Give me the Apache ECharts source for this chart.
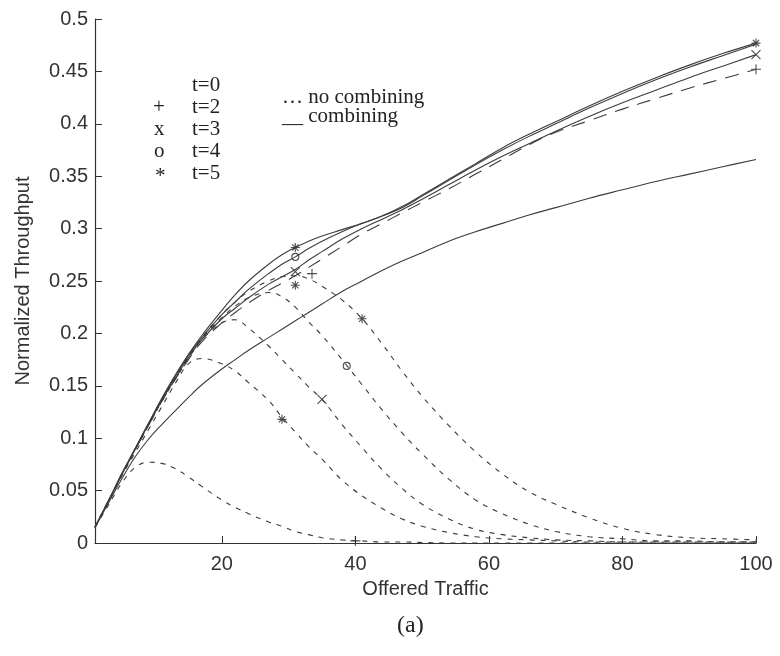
<!DOCTYPE html>
<html>
<head>
<meta charset="utf-8">
<script src="https://cdn.jsdelivr.net/npm/echarts@6/dist/echarts.min.js"></script>
<style>
  html, body { margin: 0; padding: 0; background: #fff; }
  #chart { width: 780px; height: 656px; }
</style>
</head>
<body>
<div id="chart"></div>
<script>
// offered traffic sample points (shared by all curves)
const xs = [1, 3, 5, 7, 9, 11, 13, 15, 17, 20, 22, 24, 27, 29, 31, 33, 35, 38, 41, 44, 47, 50, 54, 58, 62, 66, 70, 75, 80, 85, 90, 95, 100]

// combining (solid)
const combT0 = [0.015, 0.038, 0.061, 0.082, 0.099, 0.113, 0.126, 0.139, 0.151, 0.166, 0.175, 0.184, 0.196, 0.204, 0.212, 0.220, 0.228, 0.240, 0.250, 0.260, 0.269, 0.277, 0.288, 0.297, 0.305, 0.313, 0.320, 0.329, 0.337, 0.345, 0.352, 0.359, 0.366]
const combT2 = [0.015, 0.040, 0.065, 0.089, 0.112, 0.135, 0.156, 0.175, 0.192, 0.210, 0.220, 0.229, 0.241, 0.248, 0.255, 0.263, 0.271, 0.283, 0.295, 0.305, 0.315, 0.325, 0.338, 0.352, 0.366, 0.380, 0.392, 0.403, 0.414, 0.424, 0.434, 0.443, 0.452]
const combT3 = [0.015, 0.040, 0.065, 0.089, 0.113, 0.136, 0.157, 0.177, 0.194, 0.214, 0.224, 0.234, 0.247, 0.254, 0.261, 0.270, 0.278, 0.290, 0.300, 0.309, 0.318, 0.328, 0.342, 0.356, 0.369, 0.381, 0.393, 0.407, 0.420, 0.432, 0.444, 0.455, 0.466]
const combT4 = [0.015, 0.040, 0.066, 0.090, 0.114, 0.137, 0.159, 0.179, 0.196, 0.218, 0.230, 0.242, 0.257, 0.266, 0.273, 0.281, 0.288, 0.297, 0.305, 0.312, 0.320, 0.331, 0.346, 0.361, 0.375, 0.388, 0.400, 0.415, 0.429, 0.442, 0.454, 0.465, 0.476]
const combT5 = [0.015, 0.040, 0.066, 0.090, 0.114, 0.138, 0.160, 0.180, 0.198, 0.222, 0.237, 0.250, 0.266, 0.275, 0.282, 0.288, 0.293, 0.299, 0.305, 0.312, 0.321, 0.332, 0.347, 0.362, 0.377, 0.390, 0.402, 0.417, 0.431, 0.444, 0.456, 0.467, 0.477]

// no combining (dashed)
const noCombT0 = [0.015, 0.036, 0.057, 0.072, 0.077, 0.076, 0.071, 0.063, 0.054, 0.041, 0.034, 0.028, 0.020, 0.016, 0.011, 0.008, 0.005, 0.003, 0.002, 0.001, 0.001, 0.0005, 0, 0, 0, 0, 0, 0, 0, 0, 0, 0, 0]
const noCombT2 = [0.015, 0.040, 0.064, 0.086, 0.108, 0.130, 0.152, 0.171, 0.176, 0.171, 0.164, 0.153, 0.136, 0.120, 0.106, 0.092, 0.080, 0.060, 0.045, 0.033, 0.023, 0.016, 0.010, 0.006, 0.004, 0.003, 0.002, 0.001, 0.001, 0.001, 0.001, 0.001, 0.001]
const noCombT3 = [0.015, 0.040, 0.065, 0.089, 0.112, 0.135, 0.156, 0.176, 0.194, 0.210, 0.213, 0.205, 0.188, 0.175, 0.162, 0.149, 0.137, 0.113, 0.091, 0.070, 0.052, 0.037, 0.023, 0.013, 0.008, 0.005, 0.003, 0.002, 0.001, 0.001, 0.001, 0.001, 0.001]
const noCombT4 = [0.015, 0.040, 0.065, 0.089, 0.113, 0.136, 0.157, 0.177, 0.195, 0.215, 0.226, 0.234, 0.239, 0.235, 0.225, 0.211, 0.198, 0.175, 0.151, 0.127, 0.105, 0.085, 0.061, 0.041, 0.028, 0.018, 0.011, 0.006, 0.004, 0.002, 0.002, 0.001, 0.001]
const noCombT5 = [0.015, 0.040, 0.065, 0.089, 0.113, 0.136, 0.158, 0.178, 0.196, 0.218, 0.230, 0.240, 0.250, 0.254, 0.255, 0.252, 0.245, 0.232, 0.214, 0.190, 0.164, 0.140, 0.112, 0.087, 0.066, 0.049, 0.037, 0.024, 0.014, 0.008, 0.005, 0.004, 0.003]

// marker positions [x, y]
const plusMarks = [[33.5, 0.257], [40, 0.002], [100, 0.452]]
const crossMarks = [[31, 0.259], [35, 0.137], [100, 0.466]]
const circleMarks = [[31, 0.273], [38.7, 0.169]]
const starMarks = [[31, 0.282], [31, 0.246], [29, 0.118], [41, 0.214], [100, 0.477]]

const xTicks = [20, 40, 60, 80, 100]

const pairs = ys => xs.map((x, i) => [x, ys[i]])

const ink = '#333'
const lineColor = '#3c3c3c'
const sans = '"Liberation Sans", Arial, sans-serif'
const serif = '"Liberation Serif", "Times New Roman", serif'

const solid = (name, ys, dash) => ({
  name,
  type: 'line',
  smooth: 0.4,
  symbol: 'none',
  silent: true,
  lineStyle: { color: lineColor, width: 1.1, type: dash || 'solid' },
  data: pairs(ys)
})
const dashed = (name, ys) => ({
  name,
  type: 'line',
  smooth: 0.4,
  symbol: 'none',
  silent: true,
  lineStyle: { color: lineColor, width: 1.1, type: [5, 6] },
  data: pairs(ys)
})
const marks = (name, symbol, data, size) => ({
  name,
  type: 'scatter',
  symbol,
  symbolSize: size || 9,
  silent: true,
  itemStyle: { color: 'none', borderColor: '#222', borderWidth: 1.1 },
  data
})

const legendText = (text, left, top) => ({
  type: 'text', left, top, style: { text, font: '21px ' + serif, fill: '#222' }
})

const chart = echarts.init(document.getElementById('chart'))
chart.setOption({
  animation: false,
  backgroundColor: '#fff',
  grid: { left: 95, right: 24, top: 19, bottom: 113 },
  xAxis: {
    type: 'value',
    min: 1,
    max: 100,
    name: 'Offered Traffic',
    nameLocation: 'middle',
    nameGap: 36,
    nameTextStyle: { fontFamily: sans, fontSize: 20, color: ink },
    axisLine: { lineStyle: { color: ink, width: 1.2 } },
    axisTick: { inside: true, length: 7, customValues: xTicks, lineStyle: { color: ink } },
    axisLabel: { customValues: xTicks, fontFamily: sans, fontSize: 20, color: ink, margin: 11 },
    splitLine: { show: false }
  },
  yAxis: {
    type: 'value',
    min: 0,
    max: 0.5,
    interval: 0.05,
    name: 'Normalized Throughput',
    nameLocation: 'middle',
    nameGap: 62,
    nameTextStyle: { fontFamily: sans, fontSize: 20, color: ink },
    axisLine: { show: true, lineStyle: { color: ink, width: 1.2 } },
    axisTick: { show: true, inside: true, length: 7, lineStyle: { color: ink } },
    axisLabel: {
      fontFamily: sans, fontSize: 20, color: ink, margin: 7,
      formatter: v => String(Number(v.toFixed(2)))
    },
    splitLine: { show: false }
  },
  series: [
    solid('combining t=0', combT0),
    solid('combining t=2', combT2, [14, 9]),
    solid('combining t=3', combT3),
    solid('combining t=4', combT4),
    solid('combining t=5', combT5),
    dashed('no combining t=0', noCombT0),
    dashed('no combining t=2', noCombT2),
    dashed('no combining t=3', noCombT3),
    dashed('no combining t=4', noCombT4),
    dashed('no combining t=5', noCombT5),
    marks('+', 'path://M5,0L5,10M0,5L10,5', plusMarks, 10),
    marks('x', 'path://M0,0L10,10M10,0L0,10', crossMarks, 9),
    marks('o', 'circle', circleMarks, 7),
    marks('*', 'path://M5,0L5,10M0,5L10,5M1.5,1.5L8.5,8.5M8.5,1.5L1.5,8.5', starMarks, 9)
  ],
  graphic: [
    legendText('t=0', 192, 75),
    legendText('+', 153, 97),
    legendText('t=2', 192, 97),
    legendText('x', 154, 119),
    legendText('t=3', 192, 119),
    legendText('o', 154, 141),
    legendText('t=4', 192, 141),
    legendText('*', 155, 166),
    legendText('t=5', 192, 163),
    legendText('\u2026 no combining', 282, 87),
    legendText('__ combining', 282, 106),
    { type: 'text', left: 397, top: 614, style: { text: '(a)', font: '24px ' + serif, fill: '#222' } }
  ]
})
</script>
</body>
</html>
